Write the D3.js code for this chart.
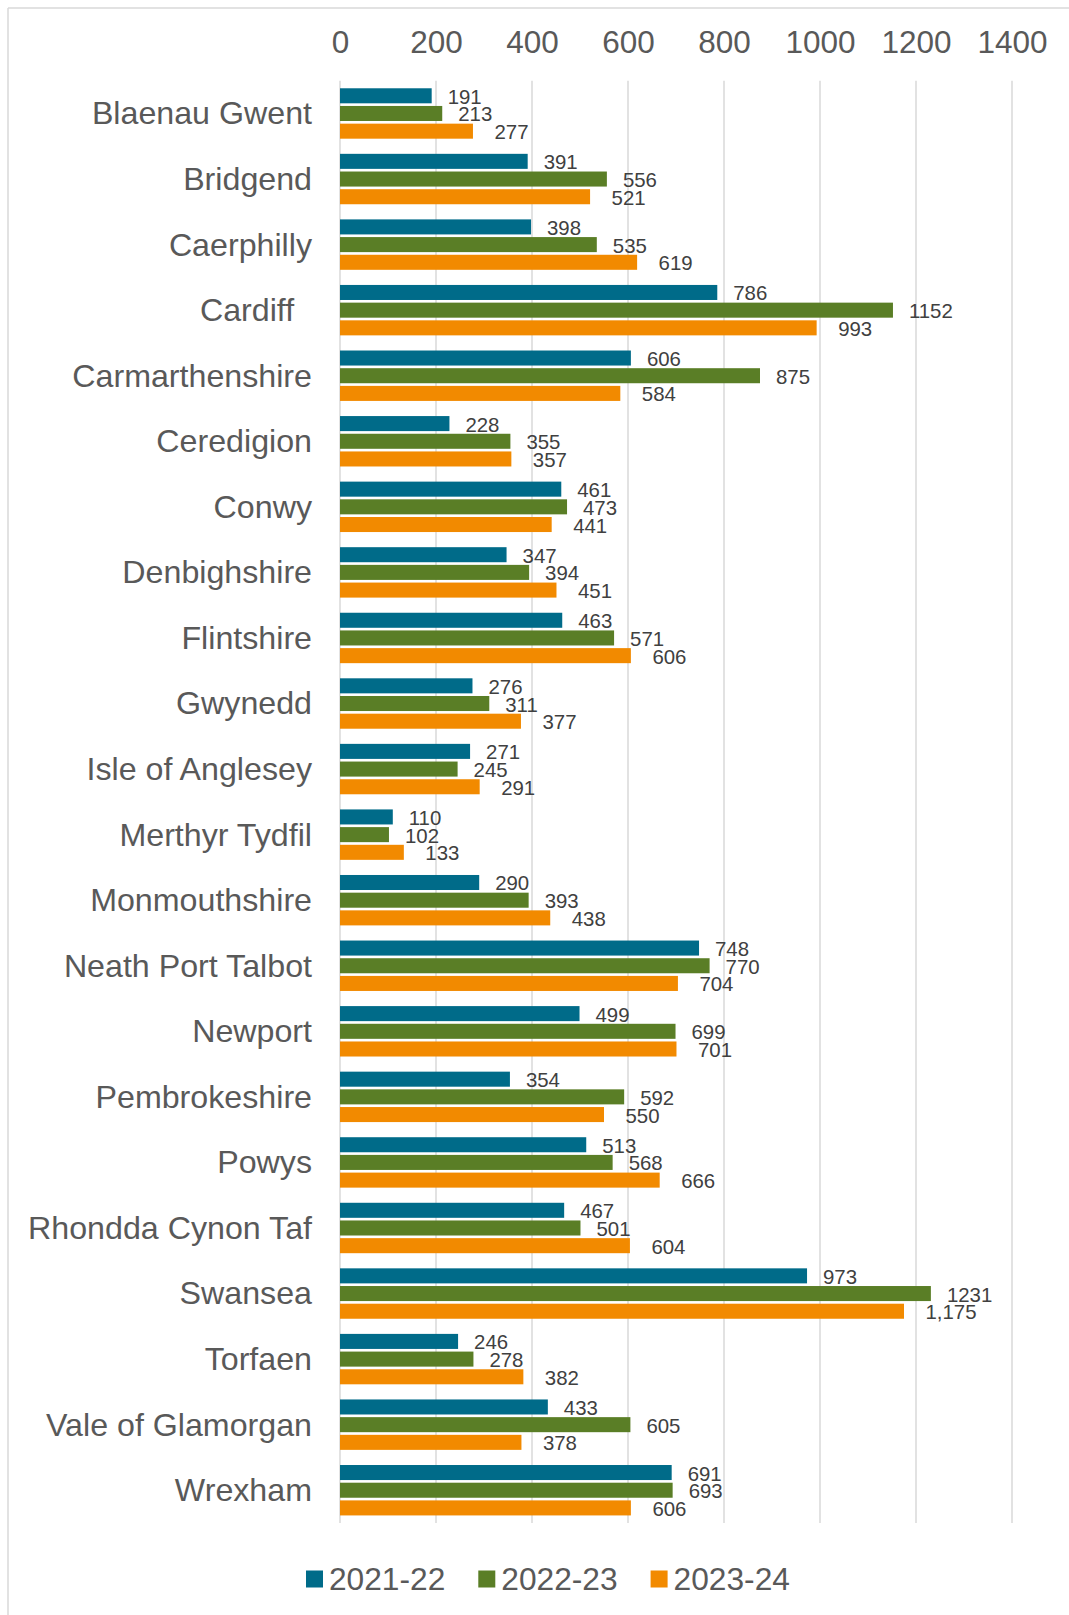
<!DOCTYPE html>
<html>
<head>
<meta charset="utf-8">
<script src="https://cdn.jsdelivr.net/npm/d3@7"></script>
<style>
  html, body { margin: 0; padding: 0; background: #fff; }
  svg { display: block; }
  text { font-family: "Liberation Sans", Arial, sans-serif; }
</style>
</head>
<body>
<svg id="chart" width="1069" height="1615"></svg>
<script>
const categories = ["Blaenau Gwent", "Bridgend", "Caerphilly", "Cardiff  ", "Carmarthenshire", "Ceredigion",
  "Conwy", "Denbighshire", "Flintshire", "Gwynedd", "Isle of Anglesey", "Merthyr Tydfil", "Monmouthshire",
  "Neath Port Talbot", "Newport", "Pembrokeshire", "Powys", "Rhondda Cynon Taf", "Swansea", "Torfaen",
  "Vale of Glamorgan", "Wrexham"];
const seriesNames = ["2021-22", "2022-23", "2023-24"];
const values2021 = [191, 391, 398, 786, 606, 228, 461, 347, 463, 276, 271, 110, 290, 748, 499, 354, 513, 467, 973, 246, 433, 691];
const values2022 = [213, 556, 535, 1152, 875, 355, 473, 394, 571, 311, 245, 102, 393, 770, 699, 592, 568, 501, 1231, 278, 605, 693];
const values2023 = [277, 521, 619, 993, 584, 357, 441, 451, 606, 377, 291, 133, 438, 704, 701, 550, 666, 604, 1175, 382, 378, 606];
const tickValues = [0, 200, 400, 600, 800, 1000, 1200, 1400];
const colors = ["#006B89", "#5A7E26", "#F28A00"];

const seriesValues = [values2021, values2022, values2023];
const labelFormats = [d3.format("d"), d3.format("d"), d3.format(",")];
const labelGaps = [16, 16, 21.5];

const svg = d3.select("#chart");

// chart border (top and left visible)
svg.append("line").attr("x1", 8).attr("x2", 1069).attr("y1", 8).attr("y2", 8)
  .attr("stroke", "#d9d9d9").attr("stroke-width", 1.5);
svg.append("line").attr("x1", 8).attr("x2", 8).attr("y1", 8).attr("y2", 1615)
  .attr("stroke", "#d9d9d9").attr("stroke-width", 1.5);

const x = d3.scaleLinear().domain([0, 1400]).range([340, 1012]);
const y = d3.scaleBand().domain(categories).range([80.7, 1523]).paddingInner(0.231).paddingOuter(0.1155);
const ys = d3.scaleBand().domain(seriesNames).range([0, y.bandwidth()]).paddingInner(0.15);

// gridlines
svg.append("g").selectAll("line").data(tickValues).join("line")
  .attr("x1", d => x(d)).attr("x2", d => x(d))
  .attr("y1", 80.7).attr("y2", 1523)
  .attr("stroke", "#d9d9d9").attr("stroke-width", 1.5);

// top axis labels
const axis = svg.append("g").attr("transform", "translate(0,53)")
  .call(d3.axisTop(x).tickValues(tickValues).tickSize(0).tickPadding(0).tickFormat(d3.format("d")));
axis.select(".domain").remove();
axis.selectAll("text").attr("fill", "#595959").attr("font-size", "31.5px")
  .attr("font-family", "\"Liberation Sans\", Arial, sans-serif").attr("dy", 0);

// category labels
const yAxis = svg.append("g").attr("transform", "translate(312,0)")
  .call(d3.axisLeft(y).tickSize(0).tickPadding(0));
yAxis.select(".domain").remove();
yAxis.selectAll("text").attr("fill", "#595959").attr("font-size", "32.2px")
  .attr("font-family", "\"Liberation Sans\", Arial, sans-serif")
  .attr("dy", "0.34em").style("white-space", "pre");

// bars and labels
seriesNames.forEach((s, si) => {
  const vals = seriesValues[si];
  const g = svg.append("g");
  g.selectAll("rect").data(vals).join("rect")
    .attr("x", x(0))
    .attr("y", (d, i) => y(categories[i]) + ys(s))
    .attr("width", d => x(d) - x(0))
    .attr("height", ys.bandwidth())
    .attr("fill", colors[si]);
  g.selectAll("text").data(vals).join("text")
    .attr("x", d => x(d) + labelGaps[si])
    .attr("y", (d, i) => y(categories[i]) + ys(s) + ys.bandwidth() / 2 + 8)
    .attr("font-size", "20.4px")
    .attr("fill", "#404040")
    .text(d => labelFormats[si](d));
});

// legend
const legend = svg.append("g");
let lx = 306;
seriesNames.forEach((s, si) => {
  legend.append("rect").attr("x", lx).attr("y", 1570.5).attr("width", 17).attr("height", 17).attr("fill", colors[si]);
  const t = legend.append("text").attr("x", lx + 23).attr("y", 1590)
    .attr("font-size", "31.7px").attr("fill", "#595959").text(s);
  lx += 23 + t.node().getComputedTextLength() + 33;
});
</script>
</body>
</html>
